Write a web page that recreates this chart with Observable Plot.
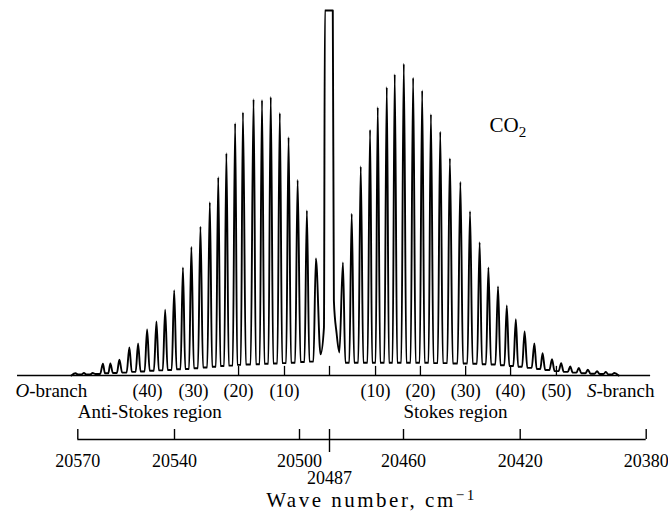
<!DOCTYPE html>
<html><head><meta charset="utf-8">
<script src="https://cdn.jsdelivr.net/npm/d3@7"></script>
<script src="https://cdn.jsdelivr.net/npm/@observablehq/plot@0.6"></script>
<style>
html,body{margin:0;padding:0;background:#fff;}
#chart svg{display:block;}
</style></head><body><div id="chart"></div>
<script>
// ---- Data (wave numbers in cm^-1, intensities in arbitrary units, central line clipped at 100) ----
// Anti-Stokes (O-branch) lines, left to right
const leftWn = [20570.7, 20568.1, 20565.4, 20562.2, 20559.9, 20557.1, 20554.0, 20551.3, 20548.5, 20545.6, 20542.9, 20540.1, 20537.3, 20534.6, 20531.7, 20528.7, 20526.0, 20523.4, 20520.6, 20518.1, 20514.7, 20512.0, 20509.2, 20506.3, 20503.5, 20500.6, 20496.8, 20492.9];
const leftPeak = [0.6, 0.7, 0.7, 3.2, 3.3, 4.3, 7.7, 8.8, 12.6, 14.8, 18.0, 23.4, 29.6, 35.2, 40.8, 47.5, 54.3, 60.9, 69.1, 72.1, 75.7, 75.5, 76.3, 71.9, 65.3, 53.6, 45.2, 32.1];
const leftValley = [0.3, 0.3, 0.4, 0.6, 0.7, 0.8, 1.0, 1.1, 1.3, 1.4, 1.5, 1.7, 1.8, 2.0, 2.2, 2.4, 2.6, 2.7, 2.9, 3.0, 3.1, 3.2, 3.3, 3.4, 3.5, 3.7, 3.8];
// Central (Rayleigh) line profile
const centerWn = [20490.9, 20489.4, 20489.0, 20485.8, 20485.4, 20484.4, 20483.4];
const centerI = [5.8, 13.2, 100, 100, 20.5, 11.5, 6.3];
// Stokes (S-branch) lines, left to right
const rightWn = [20482.1, 20478.9, 20475.6, 20472.2, 20469.4, 20466.1, 20463.2, 20459.9, 20456.7, 20453.6, 20450.6, 20447.4, 20444.1, 20440.5, 20437.2, 20433.9, 20430.9, 20427.6, 20424.6, 20421.5, 20418.6, 20415.5, 20412.9, 20409.9, 20407.0, 20404.1, 20401.4, 20398.5, 20395.6, 20392.8, 20390.1];
const rightPeak = [31.0, 44.3, 57.3, 67.3, 73.5, 79.0, 82.5, 85.4, 81.6, 78.1, 71.6, 66.8, 59.5, 53.0, 45.0, 36.5, 29.6, 24.4, 19.2, 15.4, 12.1, 8.8, 6.1, 4.5, 3.4, 2.5, 2.1, 1.6, 1.2, 1.0, 0.7];
const rightValley = [3.5, 3.5, 3.5, 3.5, 3.5, 3.5, 3.5, 3.5, 3.5, 3.5, 3.4, 3.4, 3.3, 3.3, 3.2, 3.1, 3.0, 2.8, 2.6, 2.4, 2.1, 1.8, 1.5, 1.2, 1.0, 0.8, 0.6, 0.5, 0.4, 0.3];

// Baseline extent and its small marks
const baselineStart = 20588.7;
const baselineEnd = 20378.6;
const baselineTicks = [20519.5, 20504.8, 20487, 20470.2, 20454.2, 20438.7, 20423.3, 20408.5];

// Rotational quantum number labels
const jLabels = ["(40)", "(30)", "(20)", "(10)", "(10)", "(20)", "(30)", "(40)", "(50)"];
const jLabelWn = [20548.4, 20533.9, 20519.5, 20504.8, 20470.2, 20454.2, 20438.7, 20423.3, 20408.5];

// Region labels
const regionLabels = ["Anti-Stokes region", "Stokes region"];
const regionStartWn = [20570, 20460];

// Wave-number axis
const axisTicks = [20570, 20540, 20500, 20460, 20420, 20380];
const centerTick = 20487;

// Scale calibration of the printed axis (piecewise)
const scaleWn = [20570, 20540, 20500, 20487, 20460, 20420, 20380];
const scalePx = [77.3, 174, 299, 329, 403, 519.7, 645.7];

// ---- Build the spectrum trace ----
function branch(wn, peak, valley) {
  const pts = [];
  for (let i = 0; i < wn.length; i++) {
    if (i > 0) {
      const mid = (wn[i - 1] + wn[i]) / 2;
      const half = (wn[i - 1] - wn[i]) / 2 * 0.45;
      pts.push({wn: mid + half, I: valley[i - 1]}, {wn: mid - half, I: valley[i - 1]});
    }
    pts.push({wn: wn[i], I: peak[i]});
  }
  return pts;
}
const spectrum = [];
spectrum.push({wn: leftWn[0] + (leftWn[0] - leftWn[1]) / 2, I: 0});
spectrum.push(...branch(leftWn, leftPeak, leftValley));
centerWn.forEach((w, i) => spectrum.push({wn: w, I: centerI[i]}));
spectrum.push(...branch(rightWn, rightPeak, rightValley));
const nR = rightWn.length;
spectrum.push({wn: rightWn[nR - 1] - (rightWn[nR - 2] - rightWn[nR - 1]) / 2, I: 0});

const pxPerUnit = 3.65;
const FS = 18;   // numbers
const FW = 19;   // words
const font = "'Liberation Serif', 'Times New Roman', Times, serif";

const chart = Plot.plot({
  width: 668,
  height: 512,
  marginTop: 10,
  marginBottom: 137,
  marginLeft: 0,
  marginRight: 0,
  style: {fontFamily: font, background: "#fff", color: "#000"},
  x: {type: "linear", domain: scaleWn, range: scalePx, axis: null},
  y: {type: "linear", domain: [0, 100], axis: null},
  marks: [
    Plot.ruleY([0], {x1: baselineStart, x2: baselineEnd, stroke: "#000", strokeWidth: 1.6}),
    Plot.ruleX(baselineTicks, {x: d => d, y1: 0, y2: 2.5, stroke: "#000", strokeWidth: 1.3}),
    Plot.line(spectrum, {x: "wn", y: "I", curve: "monotone-x", stroke: "#000", strokeWidth: 1.9}),
    Plot.text(["CO2"], {x: 20430.5, y: 66.6, text: d => d, textAnchor: "start", lineAnchor: "bottom", fontSize: 21, fill: "#000"}),
    // branch row
    Plot.text(jLabels, {x: (d, i) => jLabelWn[i], text: d => d, frameAnchor: "bottom", dy: 21, lineAnchor: "bottom", fontSize: FS, fill: "#000"}),
    Plot.text(["O-branch"], {text: d => d, frameAnchor: "bottom-left", dx: 15, dy: 21, textAnchor: "start", lineAnchor: "bottom", fontSize: FW, fill: "#000"}),
    Plot.text(["S-branch"], {text: d => d, frameAnchor: "bottom-right", dx: -14, dy: 21, textAnchor: "end", lineAnchor: "bottom", fontSize: FW, fill: "#000"}),
    // region row
    Plot.text(regionLabels, {x: (d, i) => regionStartWn[i], text: d => d, frameAnchor: "bottom", dy: 42, textAnchor: "start", lineAnchor: "bottom", fontSize: FW, fill: "#000"}),
    // axis
    Plot.ruleY([0], {x1: axisTicks[0], x2: axisTicks[axisTicks.length - 1], dy: 64, stroke: "#000", strokeWidth: 1.4}),
    Plot.ruleX(axisTicks, {x: d => d, y1: 0, y2: 10 / pxPerUnit, dy: 64, stroke: "#000", strokeWidth: 1.4}),
    Plot.ruleX([centerTick], {x: d => d, y1: -13 / pxPerUnit, y2: 10 / pxPerUnit, dy: 64, stroke: "#000", strokeWidth: 1.4}),
    Plot.text(axisTicks, {x: d => d, text: d => String(d), frameAnchor: "bottom", dy: 91, lineAnchor: "bottom", fontSize: FS, fill: "#000"}),
    Plot.text([centerTick], {x: d => d, text: d => String(d), frameAnchor: "bottom", dy: 108, lineAnchor: "bottom", fontSize: FS, fill: "#000"}),
    Plot.text(["Wave number, cm\u22121"], {text: d => d, frameAnchor: "bottom", dx: 37, dy: 131, lineAnchor: "bottom", fontSize: 21, fill: "#000"})
  ]
});

d3.select(chart).selectAll("text").each(function () {
  const t = this.textContent;
  const s = d3.select(this);
  if (t === "O-branch" || t === "S-branch") {
    s.text(null);
    s.append("tspan").attr("font-style", "italic").text(t[0]);
    s.append("tspan").text(t.slice(1));
  } else if (t === "CO2") {
    s.text(null);
    s.append("tspan").text("CO");
    s.append("tspan").attr("dy", "0.3em").attr("font-size", "0.72em").text("2");
  } else if (t === "Wave number, cm\u22121") {
    s.text(null);
    s.attr("letter-spacing", "2.5px");
    s.append("tspan").text("Wave number, cm");
    s.append("tspan").attr("dy", "-0.45em").attr("font-size", "0.72em").text("\u22121");
  }
});

document.getElementById("chart").appendChild(chart);
</script>
</body></html>
